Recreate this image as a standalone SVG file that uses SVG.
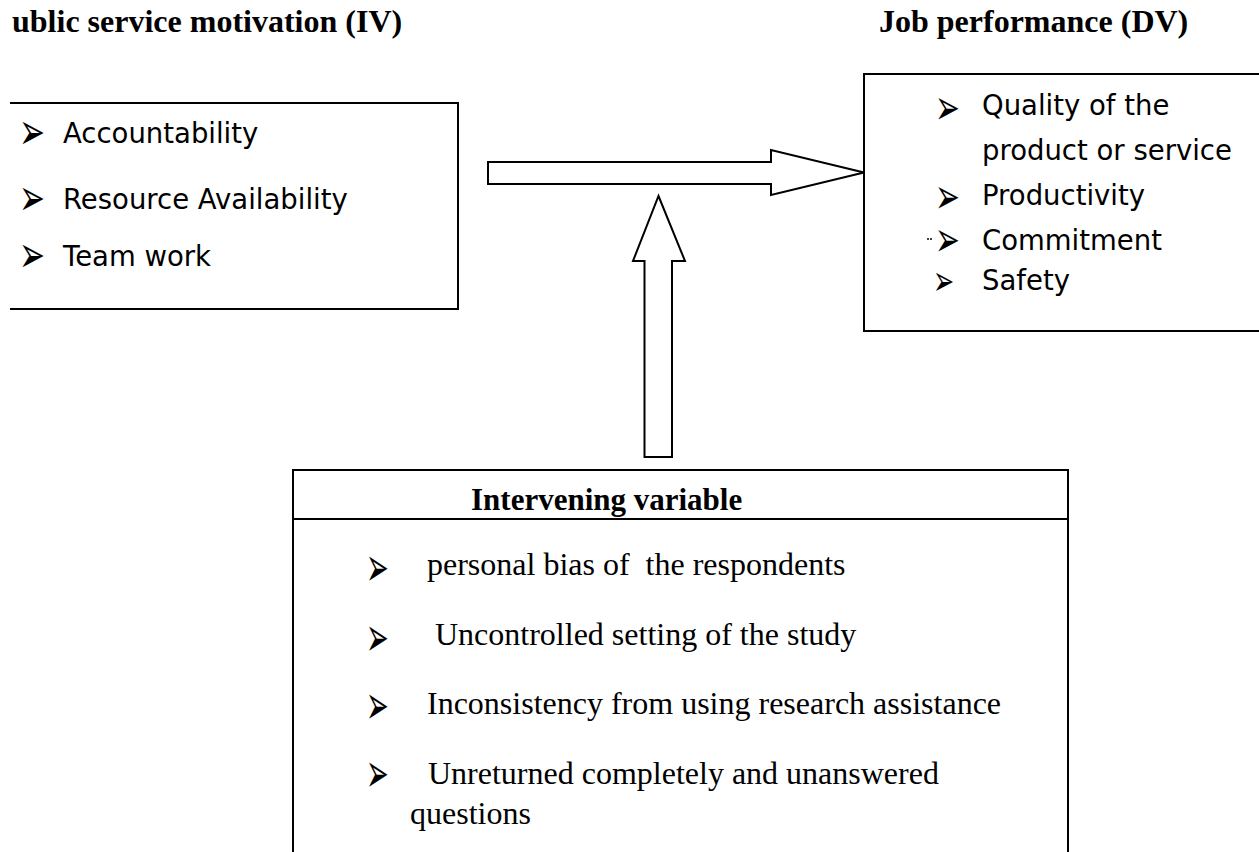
<svg xmlns="http://www.w3.org/2000/svg" width="1259" height="852" viewBox="0 0 1259 852">
  <style>
    .hdr { font-family: "Liberation Serif", "Times New Roman", serif; font-weight: bold; font-size: 32px; fill: #000; }
    .ttl { font-family: "Liberation Serif", "Times New Roman", serif; font-weight: bold; font-size: 31px; fill: #000; }
    .sans { font-family: "DejaVu Sans", Verdana, sans-serif; font-size: 27.5px; fill: #000; }
    .serif { font-family: "Liberation Serif", "Times New Roman", serif; font-size: 32px; fill: #000; }
    .bul { font-family: "DejaVu Sans", sans-serif; fill: #000; }
    .box { fill: none; stroke: #000; stroke-width: 2; }
    .arrow { fill: #fff; stroke: #000; stroke-width: 2; stroke-linejoin: miter; }
  </style>
  <rect width="1259" height="852" fill="#fff"/>

  <g id="header-iv">
    <text class="hdr" x="12" y="32" font-size="33">ublic service motivation (IV)</text>
  </g>
  <g id="header-dv">
    <text class="hdr" x="879" y="32" font-size="31.5">Job performance (DV)</text>
  </g>

  <g id="node-iv">
    <path class="box" d="M10 103 H458 V309 H10"/>
    <text class="bul" font-size="27" transform="translate(19,148.5) scale(1.15,1.9)">➢</text>
    <text class="sans" x="63" y="143">Accountability</text>
    <text class="bul" font-size="27" transform="translate(19,215) scale(1.15,1.9)">➢</text>
    <text class="sans" x="63" y="209">Resource Availability</text>
    <text class="bul" font-size="27" transform="translate(19,272) scale(1.15,1.9)">➢</text>
    <text class="sans" x="63" y="266">Team work</text>
  </g>

  <g id="node-dv">
    <path class="box" d="M1260 74 H864 V331 H1260"/>
    <text class="bul" font-size="27" transform="translate(935,124) scale(1.1,1.8)">➢</text>
    <text class="sans" x="982" y="115">Quality of the</text>
    <text class="sans" x="982" y="160">product or service</text>
    <text class="bul" font-size="27" transform="translate(935,213) scale(1.1,1.8)">➢</text>
    <text class="sans" x="982" y="205">Productivity</text>
    <line x1="927" y1="239" x2="932" y2="239" stroke="#000" stroke-width="1.5" stroke-dasharray="2 1"/>
    <text class="bul" font-size="27" transform="translate(935,256) scale(1.1,1.8)">➢</text>
    <text class="sans" x="982" y="250">Commitment</text>
    <text class="bul" font-size="22" transform="translate(933,295) scale(1.15,1.9)">➢</text>
    <text class="sans" x="982" y="290" font-size="22">Safety</text>
  </g>

  <g id="node-intervening">
    <path class="box" d="M293 853 V470 H1068 V853"/>
    <line class="box" x1="293" y1="519" x2="1068" y2="519"/>
    <text class="ttl" x="471" y="510">Intervening variable</text>
    <text class="bul" font-size="23" transform="translate(366,586) scale(1.18,2.4)">➢</text>
    <text class="serif" x="427" y="575">personal bias of&#160; the respondents</text>
    <text class="bul" font-size="23" transform="translate(366,656) scale(1.18,2.4)">➢</text>
    <text class="serif" x="435" y="645">Uncontrolled setting of the study</text>
    <text class="bul" font-size="23" transform="translate(366,724) scale(1.18,2.4)">➢</text>
    <text class="serif" x="427" y="714">Inconsistency from using research assistance</text>
    <text class="bul" font-size="23" transform="translate(366,792) scale(1.18,2.4)">➢</text>
    <text class="serif" x="428" y="784">Unreturned completely and unanswered</text>
    <text class="serif" x="410" y="824">questions</text>
  </g>

  <g id="connectors">
    <polygon class="arrow" points="488,162 771,162 771,150 864,172.5 771,195 771,184 488,184"/>
    <polygon class="arrow" points="658.5,196 685,261 672,261 672,457 644.5,457 644.5,261 633,261"/>
  </g>
</svg>
